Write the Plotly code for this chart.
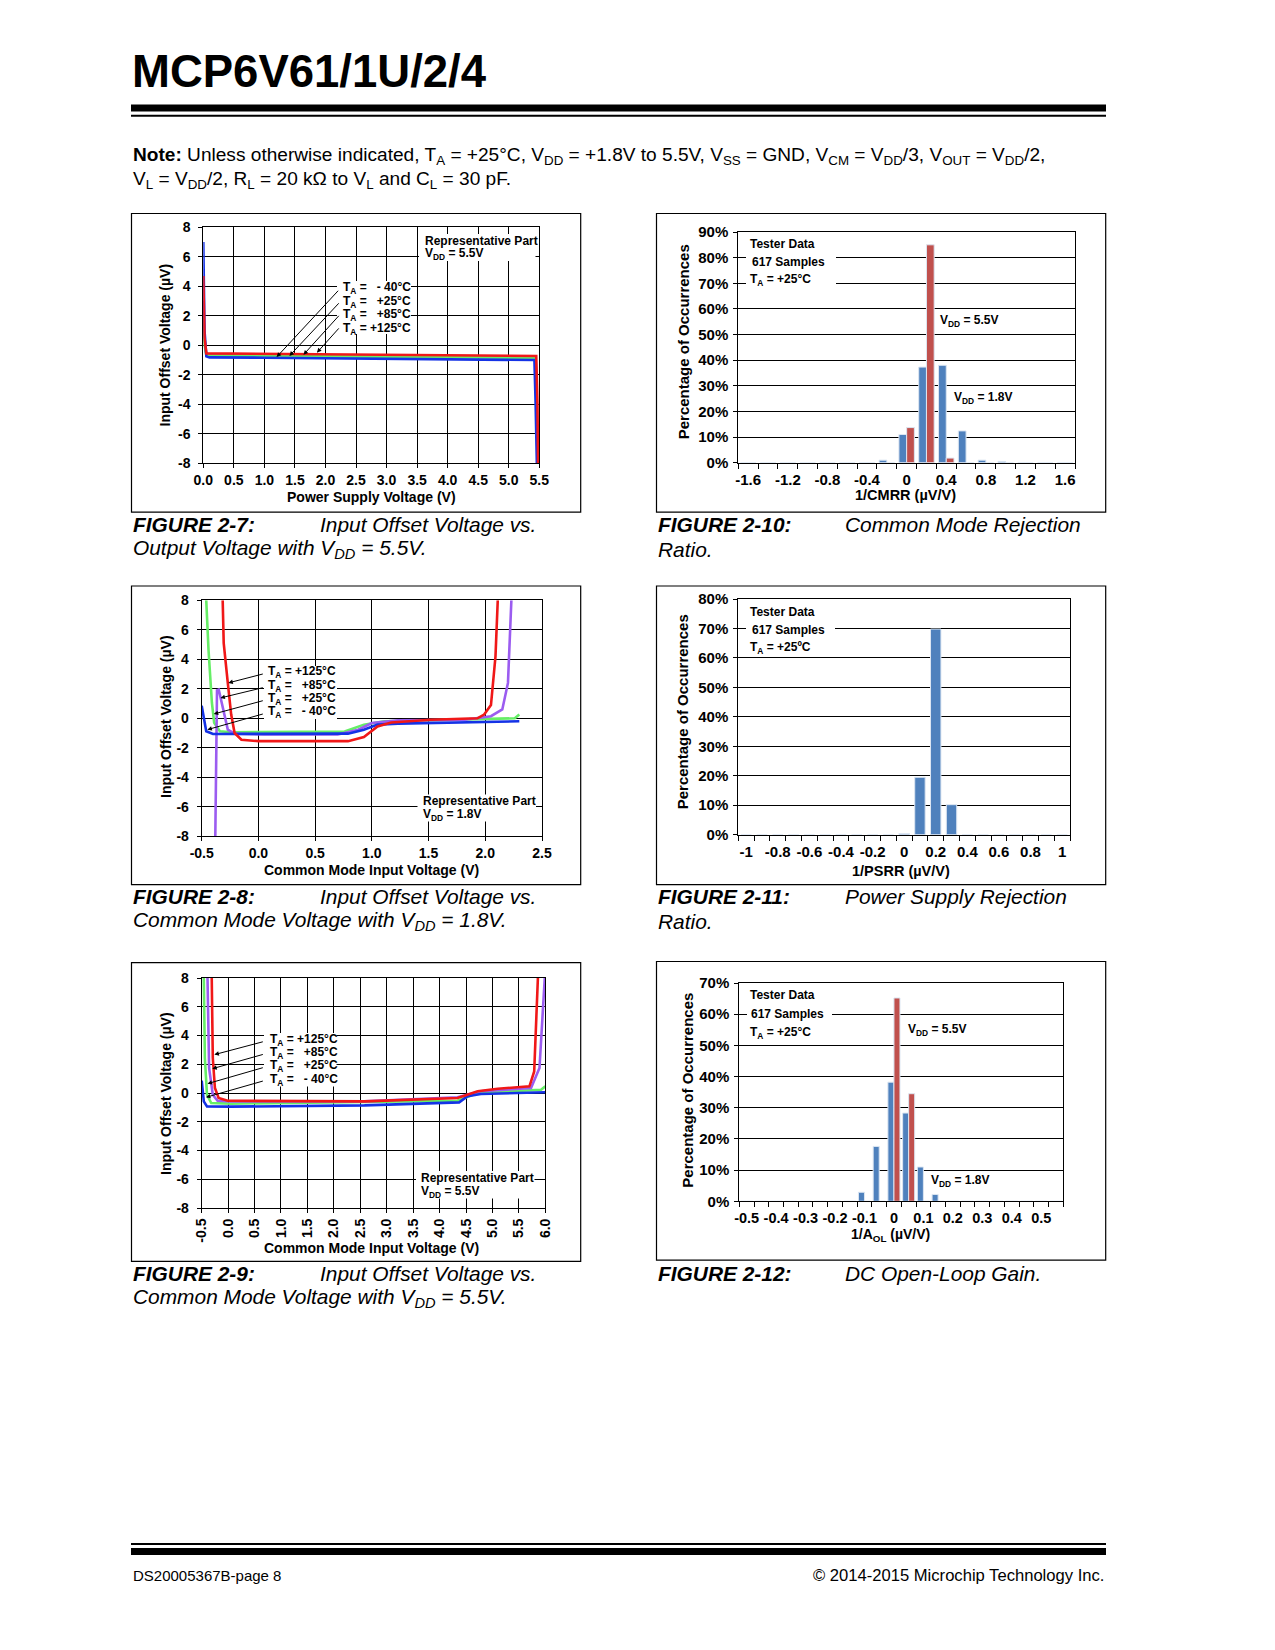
import plotly.graph_objects as go

# ---------------- page geometry (browser body margin = 8px) ----------------
W, H = 1259, 1600
OFF = 8


def PX(x):
    return (x - OFF) / W


def PY(y):
    return 1 - (y - OFF) / H


FONT = "Liberation Sans, Arial, Helvetica, sans-serif"
BLUE, GREEN, PURPLE, RED = "#1432e6", "#66ee66", "#9b5cf0", "#f01818"
BAR_BLUE, BAR_RED = "#4f81bd", "#c0504d"

# ---------------- data ----------------
# FIGURE 2-7 : input offset voltage vs power supply / output voltage (VDD = 5.5V)
f7_m40_x = [0.0, 0.02, 0.05, 0.1, 1.0, 2.0, 3.0, 4.0, 5.0, 5.42, 5.44, 5.46]
f7_m40_y = [7.0, 1.0, -0.75, -0.82, -0.84, -0.87, -0.9, -0.93, -0.97, -1.0, -4.0, -8.0]
f7_p25_x = [0.0, 0.02, 0.05, 0.1, 1.0, 2.0, 3.0, 4.0, 5.0, 5.44, 5.46, 5.47]
f7_p25_y = [2.0, 0.0, -0.68, -0.7, -0.72, -0.75, -0.78, -0.8, -0.82, -0.85, -4.5, -8.0]
f7_p85_x = [0.0, 0.02, 0.05, 0.1, 1.0, 2.0, 3.0, 4.0, 5.0, 5.44, 5.46, 5.47]
f7_p85_y = [3.0, 0.3, -0.62, -0.63, -0.65, -0.68, -0.7, -0.73, -0.76, -0.78, -4.5, -8.0]
f7_p125_x = [0.0, 0.02, 0.05, 0.5, 1.0, 2.0, 3.0, 4.0, 5.0, 5.45, 5.47, 5.48]
f7_p125_y = [4.7, 0.5, -0.55, -0.56, -0.58, -0.62, -0.65, -0.68, -0.7, -0.72, -4.0, -8.0]
f7_xticks = [0.0, 0.5, 1.0, 1.5, 2.0, 2.5, 3.0, 3.5, 4.0, 4.5, 5.0, 5.5]
f7_xlabels = ["0.0", "0.5", "1.0", "1.5", "2.0", "2.5", "3.0", "3.5", "4.0", "4.5", "5.0", "5.5"]

# FIGURE 2-8 : input offset voltage vs common mode voltage (VDD = 1.8V)
f8_p125_x = [-0.315, -0.306, -0.27, -0.24, -0.21, -0.15, 0.0, 0.5, 0.79, 0.93, 1.05, 1.17, 1.52, 1.93, 1.99, 2.05, 2.09, 2.11]
f8_p125_y = [8.0, 5.1, 2.4, 0.25, -1.0, -1.45, -1.55, -1.58, -1.55, -1.27, -0.55, -0.28, -0.1, 0.0, 0.25, 0.9, 4.2, 8.0]
f8_p85_x = [-0.38, -0.365, -0.35, -0.31, -0.27, -0.21, 0.05, 0.7, 0.88, 1.0, 1.23, 1.82, 2.05, 2.15, 2.2, 2.23]
f8_p85_y = [-8.0, 1.9, 1.95, 0.6, -0.77, -1.04, -1.1, -1.1, -0.77, -0.32, -0.14, -0.1, 0.14, 0.6, 2.4, 8.0]
f8_p25_x = [-0.46, -0.44, -0.41, -0.39, -0.34, -0.24, 0.76, 0.93, 1.11, 1.82, 2.26, 2.3]
f8_p25_y = [8.0, 4.65, 1.04, -0.3, -0.88, -0.95, -0.9, -0.43, -0.2, -0.05, 0.0, 0.25]
f8_m40_x = [-0.5, -0.46, -0.4, -0.24, 0.79, 0.93, 1.05, 1.23, 2.3]
f8_m40_y = [0.86, -0.88, -1.06, -1.06, -1.04, -0.77, -0.43, -0.36, -0.2]
f8_xticks = [-0.5, 0.0, 0.5, 1.0, 1.5, 2.0, 2.5]
f8_xlabels = ["-0.5", "0.0", "0.5", "1.0", "1.5", "2.0", "2.5"]

# FIGURE 2-9 : input offset voltage vs common mode voltage (VDD = 5.5V)
f9_p125_x = [-0.31, -0.29, -0.25, -0.18, -0.01, 2.58, 4.34, 4.72, 5.1, 5.7, 5.79, 5.82, 5.86]
f9_p125_y = [8.0, 2.43, 0.35, -0.35, -0.54, -0.58, -0.35, 0.12, 0.3, 0.46, 1.5, 4.75, 8.0]
f9_p85_x = [-0.39, -0.36, -0.29, -0.2, 0.05, 2.58, 4.34, 4.78, 5.73, 5.89, 5.99]
f9_p85_y = [8.0, 1.74, -0.12, -0.54, -0.58, -0.58, -0.3, 0.12, 0.35, 1.74, 8.0]
f9_p25_x = [-0.46, -0.44, -0.40, -0.32, 0.05, 4.34, 4.72, 5.92, 6.0]
f9_p25_y = [8.0, 2.43, -0.12, -0.7, -0.74, -0.54, 0.0, 0.23, 0.46]
f9_m40_x = [-0.5, -0.46, -0.4, 0.05, 2.58, 4.37, 4.53, 4.78, 6.0]
f9_m40_y = [0.86, -0.58, -0.93, -0.95, -0.86, -0.65, -0.23, -0.07, 0.05]
f9_xticks = [-0.5, 0.0, 0.5, 1.0, 1.5, 2.0, 2.5, 3.0, 3.5, 4.0, 4.5, 5.0, 5.5, 6.0]
f9_xlabels = ["-0.5", "0.0", "0.5", "1.0", "1.5", "2.0", "2.5", "3.0", "3.5", "4.0", "4.5", "5.0", "5.5", "6.0"]

vos_yticks = [-8, -6, -4, -2, 0, 2, 4, 6, 8]
vos_ylabels = ["-8", "-6", "-4", "-2", "0", "2", "4", "6", "8"]

# FIGURE 2-10 : 1/CMRR histogram
cmrr_bins = [-1.6, -1.4, -1.2, -1.0, -0.8, -0.6, -0.4, -0.2, 0.0, 0.2, 0.4, 0.6, 0.8, 1.0, 1.2, 1.4, 1.6]
cmrr_vdd18 = [0, 0, 0, 0, 0, 0, 0, 1.0, 11.0, 37.3, 38.0, 12.4, 1.0, 0.5, 0, 0, 0]
cmrr_vdd55 = [0, 0, 0, 0, 0, 0, 0, 0, 13.7, 85.0, 1.8, 0, 0, 0, 0, 0, 0]
cmrr_xticks = [-1.6, -1.2, -0.8, -0.4, 0.0, 0.4, 0.8, 1.2, 1.6]
cmrr_xlabels = ["-1.6", "-1.2", "-0.8", "-0.4", "0", "0.4", "0.8", "1.2", "1.6"]
cmrr_yticks = [0, 10, 20, 30, 40, 50, 60, 70, 80, 90]
cmrr_ylabels = ["0%", "10%", "20%", "30%", "40%", "50%", "60%", "70%", "80%", "90%"]

# FIGURE 2-11 : 1/PSRR histogram
psrr_bins = [-1.0, -0.9, -0.8, -0.7, -0.6, -0.5, -0.4, -0.3, -0.2, -0.1, 0.0, 0.1, 0.2, 0.3, 0.4, 0.5, 0.6, 0.7, 0.8, 0.9, 1.0]
psrr_pct = [0, 0, 0, 0, 0, 0, 0, 0, 0, 0, 0.4, 19.5, 69.8, 10.2, 0, 0, 0, 0, 0, 0, 0]
psrr_xticks = [-1.0, -0.8, -0.6, -0.4, -0.2, 0.0, 0.2, 0.4, 0.6, 0.8, 1.0]
psrr_xlabels = ["-1", "-0.8", "-0.6", "-0.4", "-0.2", "0", "0.2", "0.4", "0.6", "0.8", "1"]
psrr_yticks = [0, 10, 20, 30, 40, 50, 60, 70, 80]
psrr_ylabels = ["0%", "10%", "20%", "30%", "40%", "50%", "60%", "70%", "80%"]

# FIGURE 2-12 : 1/AOL histogram
aol_bins = [-0.5, -0.45, -0.4, -0.35, -0.3, -0.25, -0.2, -0.15, -0.1, -0.05, 0.0, 0.05, 0.1, 0.15, 0.2, 0.25, 0.3, 0.35, 0.4, 0.45, 0.5, 0.55]
aol_vdd18 = [0, 0, 0, 0, 0, 0, 0, 0, 2.9, 17.6, 38.2, 28.3, 11.0, 2.2, 0, 0, 0, 0, 0, 0, 0, 0]
aol_vdd55 = [0, 0, 0, 0, 0, 0, 0, 0, 0, 0, 65.2, 34.5, 0, 0, 0, 0, 0, 0, 0, 0, 0, 0]
aol_xticks = [-0.5, -0.4, -0.3, -0.2, -0.1, 0.0, 0.1, 0.2, 0.3, 0.4, 0.5]
aol_xlabels = ["-0.5", "-0.4", "-0.3", "-0.2", "-0.1", "0", "0.1", "0.2", "0.3", "0.4", "0.5"]
aol_yticks = [0, 10, 20, 30, 40, 50, 60, 70]
aol_ylabels = ["0%", "10%", "20%", "30%", "40%", "50%", "60%", "70%"]

# temperature labels (text) and the curve points their arrows point at
ta_labels_up = ["T<sub>A</sub> =\u00a0\u00a0\u00a0- 40°C", "T<sub>A</sub> =\u00a0\u00a0\u00a0+25°C",
                "T<sub>A</sub> =\u00a0\u00a0\u00a0+85°C", "T<sub>A</sub> = +125°C"]
ta_labels_down = list(reversed(ta_labels_up))
f7_arrow_head = [(1.2, -0.8), (1.41, -0.72), (1.64, -0.64), (1.86, -0.5)]
f7_arrow_tail = [(2.23, 3.8), (2.24, 2.95), (2.24, 2.1), (2.24, 1.25)]
f8_arrow_head = [(-0.265, 2.4), (-0.335, 1.38), (-0.394, 0.29), (-0.45, -0.77)]
f8_arrow_tail = [(0.052, 3.03), (0.052, 2.1), (0.052, 1.22), (0.052, 0.32)]
f9_arrow_head = [(-0.26, 2.67), (-0.30, 1.69), (-0.39, 0.65), (-0.42, -0.3)]
f9_arrow_tail = [(0.685, 3.59), (0.685, 2.71), (0.685, 1.79), (0.685, 0.86)]

# ---------------- figure ----------------
fig = go.Figure()


def curves(xa, ya, series):
    for xs, ys, col in series:
        fig.add_trace(go.Scatter(x=xs, y=ys, mode="lines", xaxis=xa, yaxis=ya,
                                 line=dict(color=col, width=2.6), hoverinfo="skip"))


curves("x", "y", [(f7_p85_x, f7_p85_y, PURPLE), (f7_p25_x, f7_p25_y, GREEN),
                  (f7_m40_x, f7_m40_y, BLUE), (f7_p125_x, f7_p125_y, RED)])
curves("x3", "y3", [(f8_p25_x, f8_p25_y, GREEN), (f8_p85_x, f8_p85_y, PURPLE),
                    (f8_m40_x, f8_m40_y, BLUE), (f8_p125_x, f8_p125_y, RED)])
curves("x5", "y5", [(f9_p25_x, f9_p25_y, GREEN), (f9_p85_x, f9_p85_y, PURPLE),
                    (f9_m40_x, f9_m40_y, BLUE), (f9_p125_x, f9_p125_y, RED)])


def bars(xa, ya, xs, ys, col, width, offset):
    fig.add_trace(go.Bar(x=xs, y=ys, xaxis=xa, yaxis=ya, width=width, offset=offset,
                         marker=dict(color=col, line=dict(color="#dce6f2", width=1)),
                         hoverinfo="skip"))


bars("x2", "y2", cmrr_bins, cmrr_vdd18, BAR_BLUE, 0.078, -0.078)
bars("x2", "y2", cmrr_bins, cmrr_vdd55, BAR_RED, 0.078, 0.0)
bars("x4", "y4", psrr_bins, psrr_pct, BAR_BLUE, 0.066, -0.033)
bars("x6", "y6", aol_bins, aol_vdd18, BAR_BLUE, 0.0205, -0.0205)
bars("x6", "y6", aol_bins, aol_vdd55, BAR_RED, 0.0205, 0.0)

TICK_L = dict(family=FONT, size=14, color="black", weight="bold")   # line charts
TICK_B = dict(family=FONT, size=15, color="black", weight="bold")   # bar charts


def axis(dom, rng, tv, tt, anchor, tfont, grid=True, **kw):
    d = dict(domain=dom, range=rng, tickmode="array", tickvals=tv, ticktext=tt, anchor=anchor,
             showgrid=grid, gridcolor="black", gridwidth=1, showline=True, linecolor="black",
             linewidth=1, mirror=True, ticks="outside", ticklen=4, tickcolor="black", tickwidth=1,
             tickfont=tfont, zeroline=False, fixedrange=True, automargin=False)
    d.update(kw)
    return d


def bar_xaxis(dom, rng, tv, tt, anchor, tfont, step):
    return axis(dom, rng, tv, tt, anchor, tfont, grid=False, ticks="", ticklabelstandoff=3,
                minor=dict(ticks="outside", ticklen=5, tickcolor="black", tickwidth=1,
                           tick0=rng[0], dtick=step, showgrid=False))


# plot areas (page px): left, right, top, bottom
A = (203.3, 539.3, 227.3, 463.3)
B = (738.3, 1075.0, 232.0, 462.7)
C = (201.7, 542.0, 600.3, 836.3)
D = (738.3, 1070.0, 599.0, 834.7)
E = (201.7, 545.3, 978.0, 1208.0)
F = (739.3, 1063.3, 983.0, 1201.3)


def xd(r):
    return [PX(r[0]), PX(r[1])]


def yd(r):
    return [PY(r[3]), PY(r[2])]


fig.update_layout(
    xaxis=axis(xd(A), [0, 5.5], f7_xticks, f7_xlabels, "y", TICK_L),
    yaxis=axis(yd(A), [-8, 8], vos_yticks, vos_ylabels, "x", TICK_L, ticklabelstandoff=5),
    xaxis2=bar_xaxis(xd(B), [-1.7, 1.7], cmrr_xticks, cmrr_xlabels, "y2", TICK_B, 0.2),
    yaxis2=axis(yd(B), [0, 90], cmrr_yticks, cmrr_ylabels, "x2", TICK_B, ticklabelstandoff=2),
    xaxis3=axis(xd(C), [-0.5, 2.5], f8_xticks, f8_xlabels, "y3", TICK_L),
    yaxis3=axis(yd(C), [-8, 8], vos_yticks, vos_ylabels, "x3", TICK_L, ticklabelstandoff=5),
    xaxis4=bar_xaxis(xd(D), [-1.05, 1.05], psrr_xticks, psrr_xlabels, "y4", TICK_B, 0.1),
    yaxis4=axis(yd(D), [0, 80], psrr_yticks, psrr_ylabels, "x4", TICK_B, ticklabelstandoff=2),
    xaxis5=axis(xd(E), [-0.5, 6.0], f9_xticks, f9_xlabels, "y5", TICK_L, tickangle=-90),
    yaxis5=axis(yd(E), [-8, 8], vos_yticks, vos_ylabels, "x5", TICK_L, ticklabelstandoff=5),
    xaxis6=bar_xaxis(xd(F), [-0.525, 0.575], aol_xticks, aol_xlabels, "y6",
                     dict(TICK_B, size=14.5), 0.05),
    yaxis6=axis(yd(F), [0, 70], aol_yticks, aol_ylabels, "x6", TICK_B, ticklabelstandoff=2),
)

ann = []


def txt(x, y, s, size=12, xa="left", ya="middle", angle=0):
    return dict(x=PX(x), y=PY(y), xref="paper", yref="paper", text=s, showarrow=False,
                xanchor=xa, yanchor=ya, textangle=angle,
                font=dict(family=FONT, size=size, color="black"))


def arrows(xr, yr, heads, tails):
    for (hx, hy), (tx, ty) in zip(heads, tails):
        ann.append(dict(xref=xr, yref=yr, axref=xr, ayref=yr, x=hx, y=hy, ax=tx, ay=ty,
                        text="", showarrow=True, arrowhead=2, arrowsize=0.9, arrowwidth=1,
                        arrowcolor="black", standoff=0))


# --- page header ---
ann.append(txt(130, 71, "<b>MCP6V61/1U/2/4</b>", size=45.5))
ann.append(txt(131, 156, "<b>Note:</b> Unless otherwise indicated, T<sub>A</sub> = +25°C, "
                         "V<sub>DD</sub> = +1.8V to 5.5V, V<sub>SS</sub> = GND, "
                         "V<sub>CM</sub> = V<sub>DD</sub>/3, V<sub>OUT</sub> = V<sub>DD</sub>/2,",
               size=19.1))
ann.append(txt(131, 179.5, "V<sub>L</sub> = V<sub>DD</sub>/2, R<sub>L</sub> = 20 kΩ to V<sub>L</sub> "
                           "and C<sub>L</sub> = 30 pF.", size=19.1))

# --- figure 2-7 texts ---
ann.append(txt(164.5, 345, "<b>Input Offset Voltage (µV)</b>", size=14, xa="center", angle=-90))
ann.append(txt(371, 497, "<b>Power Supply Voltage (V)</b>", size=14, xa="center"))
ann.append(txt(423, 241, "<b>Representative Part</b>"))
ann.append(txt(423, 254, "<b>V<sub>DD</sub> = 5.5V</b>"))
for i, s in enumerate(ta_labels_up):
    ann.append(txt(341, 288 + 13.5 * i, "<b>" + s + "</b>"))
arrows("x", "y", f7_arrow_head, f7_arrow_tail)

# --- figure 2-10 texts ---
ann.append(txt(683.3, 342, "<b>Percentage of Occurrences</b>", size=15, xa="center", angle=-90))
ann.append(txt(905, 495, "<b>1/CMRR (µV/V)</b>", size=14.5, xa="center"))
ann.append(txt(747.5, 243.5, "<b>Tester Data</b>"))
ann.append(txt(749.5, 261.5, "<b>617 Samples</b>"))
ann.append(txt(747.5, 280, "<b>T<sub>A</sub> = +25°C</b>"))
ann.append(txt(938, 321, "<b>V<sub>DD</sub> = 5.5V</b>"))
ann.append(txt(951.5, 398.5, "<b>V<sub>DD</sub> = 1.8V</b>"))

# --- figure 2-8 texts ---
ann.append(txt(166, 717, "<b>Input Offset Voltage (µV)</b>", size=14, xa="center", angle=-90))
ann.append(txt(371, 870, "<b>Common Mode Input Voltage (V)</b>", size=14, xa="center"))
for i, s in enumerate(ta_labels_down):
    ann.append(txt(266, 672.3 + 13.35 * i, "<b>" + s + "</b>"))
arrows("x3", "y3", f8_arrow_head, f8_arrow_tail)
ann.append(txt(421, 801.3, "<b>Representative Part</b>"))
ann.append(txt(421, 814.7, "<b>V<sub>DD</sub> = 1.8V</b>"))

# --- figure 2-11 texts ---
ann.append(txt(683.3, 712, "<b>Percentage of Occurrences</b>", size=15, xa="center", angle=-90))
ann.append(txt(900.5, 871, "<b>1/PSRR (µV/V)</b>", size=14.5, xa="center"))
ann.append(txt(748.3, 612, "<b>Tester Data</b>"))
ann.append(txt(750, 629.7, "<b>617 Samples</b>"))
ann.append(txt(748.3, 648, "<b>T<sub>A</sub> = +25ºC</b>"))

# --- figure 2-9 texts ---
ann.append(txt(166, 1094, "<b>Input Offset Voltage (µV)</b>", size=14, xa="center", angle=-90))
ann.append(txt(371, 1248, "<b>Common Mode Input Voltage (V)</b>", size=14, xa="center"))
for i, s in enumerate(ta_labels_down):
    ann.append(txt(267.7, 1039.7 + 13.35 * i, "<b>" + s + "</b>"))
arrows("x5", "y5", f9_arrow_head, f9_arrow_tail)
ann.append(txt(419, 1178, "<b>Representative Part</b>"))
ann.append(txt(419, 1192, "<b>V<sub>DD</sub> = 5.5V</b>"))

# --- figure 2-12 texts ---
ann.append(txt(686.7, 1090, "<b>Percentage of Occurrences</b>", size=15, xa="center", angle=-90))
ann.append(txt(890.5, 1235, "<b>1/A<sub>OL</sub> (µV/V)</b>", size=14, xa="center"))
ann.append(txt(748.3, 994.7, "<b>Tester Data</b>"))
ann.append(txt(749.3, 1014, "<b>617 Samples</b>"))
ann.append(txt(748.3, 1033, "<b>T<sub>A</sub> = +25°C</b>"))
ann.append(txt(905.7, 1030.3, "<b>V<sub>DD</sub> = 5.5V</b>"))
ann.append(txt(929, 1180.7, "<b>V<sub>DD</sub> = 1.8V</b>"))

# --- captions ---
CAP = 20.9
caps = [
    (131, 318, 524, "FIGURE 2-7:", "Input Offset Voltage vs.", "Output Voltage with V<sub>DD</sub> = 5.5V."),
    (656.5, 843, 524, "FIGURE 2-10:", "Common Mode Rejection", "Ratio."),
    (131, 318, 896, "FIGURE 2-8:", "Input Offset Voltage vs.", "Common Mode Voltage with V<sub>DD</sub> = 1.8V."),
    (656.5, 843, 896, "FIGURE 2-11:", "Power Supply Rejection", "Ratio."),
    (131, 318, 1273, "FIGURE 2-9:", "Input Offset Voltage vs.", "Common Mode Voltage with V<sub>DD</sub> = 5.5V."),
    (656.5, 843, 1273, "FIGURE 2-12:", "DC Open-Loop Gain.", ""),
]
for x0, x1, y0, lab, l1, l2 in caps:
    ann.append(txt(x0, y0, "<b><i>" + lab + "</i></b>", size=CAP))
    ann.append(txt(x1, y0, "<i>" + l1 + "</i>", size=CAP))
    if l2:
        ann.append(txt(x0, y0 + 25, "<i>" + l2 + "</i>", size=CAP))

# --- footer ---
ann.append(txt(131, 1575, "DS20005367B-page 8", size=15))
ann.append(txt(1106, 1575, "© 2014-2015 Microchip Technology Inc.", size=16.6, xa="right"))

# ---------------- shapes: rules, chart frames, white label boxes ----------------
shapes = []


def rect(x0, y0, x1, y1, fill=None, lw=1, layer="below"):
    d = dict(type="rect", xref="paper", yref="paper", x0=PX(x0), x1=PX(x1), y0=PY(y1), y1=PY(y0),
             layer=layer)
    if fill:
        d.update(fillcolor=fill, line=dict(width=0))
    else:
        d.update(line=dict(color="black", width=lw), fillcolor="rgba(0,0,0,0)")
    return d


shapes.append(rect(131, 104.5, 1106, 111.5, fill="black"))
shapes.append(rect(131, 114.8, 1106, 116.8, fill="black"))
shapes.append(rect(131, 1543, 1106, 1545, fill="black"))
shapes.append(rect(131, 1548, 1106, 1555, fill="black"))
for bx0, by0 in [(131.5, 213.5), (656.5, 213.5), (131.5, 586.0), (656.5, 586.0), (131.5, 962.6), (656.5, 961.5)]:
    shapes.append(rect(bx0, by0, bx0 + 449.2, by0 + 298.7, lw=1.2))

# white boxes behind in-plot labels (cover the grid lines)
for bx in [(419, 234, 535.5, 261), (337, 281, 411, 334),
           (264, 666, 337, 719), (417.5, 794.5, 536, 821.5),
           (264, 1033, 336.5, 1086.5), (416, 1171, 534.5, 1198.5),
           (746, 233, 836, 288), (746, 600, 835, 656), (747, 985, 832, 1042)]:
    shapes.append(rect(*bx, fill="white", layer="above"))

fig.update_layout(
    width=W, height=H, margin=dict(l=0, r=0, t=0, b=0, pad=0, autoexpand=False),
    paper_bgcolor="white", plot_bgcolor="white", showlegend=False,
    barmode="overlay", font=dict(family=FONT, color="black"),
    annotations=ann, shapes=shapes,
)

fig.write_html("out.html")
